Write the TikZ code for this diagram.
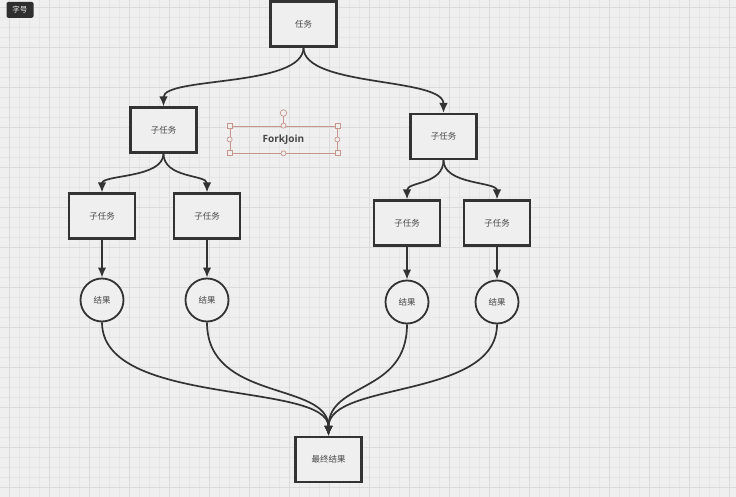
\documentclass[tikz,border=0pt]{standalone}
\usepackage{fontspec}
\setmainfont{Noto Sans CJK SC}
\newfontfamily\latinb{Open Sans}
\usetikzlibrary{arrows.meta}
\definecolor{bg}{HTML}{EFEFEF}
\definecolor{gminor}{HTML}{E6E6E6}
\definecolor{gmajor}{HTML}{DBDBDB}
\definecolor{ink}{HTML}{333333}
\definecolor{sel}{HTML}{C8968C}
\tikzset{
  box/.style={draw=ink, line width=2.1pt, fill=bg, minimum width=66pt, minimum height=45pt, inner sep=0pt, font=\fontsize{8.5}{10}\selectfont, text=ink!90},
  res/.style={circle, draw=ink, line width=1.8pt, fill=bg, minimum size=43pt, inner sep=0pt, font=\fontsize{8.5}{10}\selectfont, text=ink!90},
  conn/.style={draw=ink, line width=1.7pt, -{Latex[length=10pt,width=8.5pt]}},
  hsq/.style={draw=sel, fill=bg, line width=0.7pt, minimum size=5pt, inner sep=0pt},
  hci/.style={circle, draw=sel, fill=bg, line width=0.7pt, minimum size=5pt, inner sep=0pt}
}
\begin{document}
\begin{tikzpicture}[x=1pt,y=-1pt]
\useasboundingbox (0,0) rectangle (736,497);
\fill[bg] (0,0) rectangle (736,497);
\foreach \x in {9,19,...,729} \draw[gminor, line width=0.5pt] (\x,0) -- (\x,497);
\foreach \y in {7,17,...,497} \draw[gminor, line width=0.5pt] (0,\y) -- (736,\y);
\foreach \x in {9,49,...,729} \draw[gmajor, line width=0.6pt] (\x,0) -- (\x,497);
\foreach \y in {7,47,...,497} \draw[gmajor, line width=0.6pt] (0,\y) -- (736,\y);

% top-left tag
\node[fill=ink!90!black, rounded corners=1.5pt, text=white, font=\fontsize{7.5}{8}\selectfont, minimum width=27pt, minimum height=16pt, inner sep=0pt] (tag) at (20,10) {字号};

% nodes
\node[box] (t) at (303.5,24) {任务};
\node[box] (sl) at (163.5,130) {子任务};
\node[box] (sr) at (443.5,136.5) {子任务};
\node[box] (ll) at (102,216) {子任务};
\node[box] (lr) at (207,216) {子任务};
\node[box] (rl) at (407,223) {子任务};
\node[box] (rr) at (497,223) {子任务};
\node[res] (c1) at (102,300) {结果};
\node[res] (c2) at (207,300) {结果};
\node[res] (c3) at (407,302) {结果};
\node[res] (c4) at (497,302) {结果};
\node[box] (f) at (328.5,459.5) {最终结果};

% ForkJoin selected text
\node[draw=sel, line width=0.7pt, minimum width=107pt, minimum height=27pt, inner sep=0pt, font=\latinb\bfseries\fontsize{10}{11}\selectfont, text=ink!90] (fj) at (283.5,139.5) {ForkJoin};
\coordinate (rot) at (283.5,113);
\draw[sel, line width=0.7pt] (fj.north) -- (rot);
\node[hci, minimum size=6.5pt] at (rot) {};
\foreach \a in {north west,north east,south west,south east} \node[hsq] at (fj.\a) {};
\foreach \a in {north,south,west,east} \node[hci] at (fj.\a) {};

% connectors
\draw[conn] (t.south) .. controls +(0,40) and +(0,-30) .. (sl.north);
\draw[conn] (t.south) .. controls +(0,40) and +(0,-36) .. (sr.north);
\draw[conn] (sl.south) .. controls +(0,25) and +(0,-18) .. (ll.north);
\draw[conn] (sl.south) .. controls +(0,25) and +(0,-18) .. (lr.north);
\draw[conn] (sr.south) .. controls +(0,25) and +(0,-18) .. (rl.north);
\draw[conn] (sr.south) .. controls +(0,25) and +(0,-18) .. (rr.north);
\draw[conn] (ll.south) -- (c1.north);
\draw[conn] (lr.south) -- (c2.north);
\draw[conn] (rl.south) -- (c3.north);
\draw[conn] (rr.south) -- (c4.north);
\draw[conn] (c1.south) .. controls +(0,85) and +(0,-55) .. (f.north);
\draw[conn] (c2.south) .. controls +(0,80) and +(0,-55) .. (f.north);
\draw[conn] (c3.south) .. controls +(0,70) and +(0,-55) .. (f.north);
\draw[conn] (c4.south) .. controls +(0,75) and +(0,-55) .. (f.north);
\end{tikzpicture}
\end{document}
